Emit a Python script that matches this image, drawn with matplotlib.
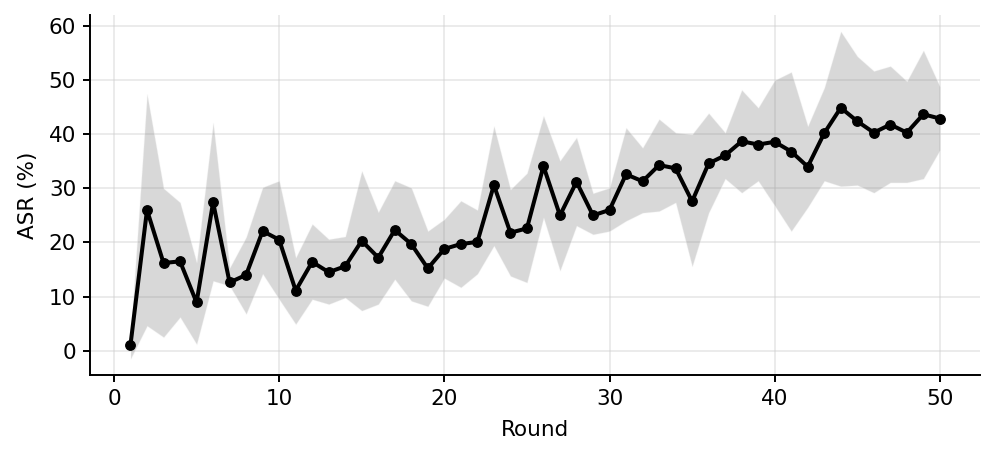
import matplotlib
matplotlib.use("Agg")
import matplotlib.pyplot as plt
import numpy as np

rounds = list(range(1, 51))
asr_mean = [1.1, 26.0, 16.2, 16.5, 8.9, 27.4, 12.6, 14.0, 22.1, 20.5,
            11.1, 16.4, 14.5, 15.6, 20.3, 17.2, 22.3, 19.7, 15.2, 18.8,
            19.7, 20.1, 30.6, 21.8, 22.6, 34.1, 25.0, 31.2, 25.0, 26.0,
            32.6, 31.3, 34.3, 33.7, 27.6, 34.6, 36.1, 38.7, 38.1, 38.6,
            36.8, 34.0, 40.2, 44.9, 42.4, 40.3, 41.8, 40.3, 43.7, 42.9]
asr_upper = [2.5, 47.4, 30.0, 27.4, 16.3, 42.1, 15.3, 21.0, 30.2, 31.4,
             17.2, 23.4, 20.6, 21.1, 33.2, 25.6, 31.4, 30.1, 22.1, 24.3,
             27.7, 26.0, 41.5, 29.8, 32.8, 43.4, 35.1, 39.4, 29.1, 30.1,
             41.2, 37.5, 42.8, 40.3, 40.0, 43.9, 40.3, 48.2, 44.9, 50.0,
             51.5, 41.5, 48.6, 59.0, 54.4, 51.7, 52.6, 49.8, 55.5, 48.8]
asr_lower = [-1.5, 4.6, 2.5, 6.2, 1.2, 12.9, 12.0, 6.8, 14.2, 9.5,
             4.9, 9.5, 8.6, 9.8, 7.4, 8.6, 13.2, 9.2, 8.2, 13.4,
             11.7, 14.2, 19.4, 13.8, 12.6, 24.6, 14.8, 23.1, 21.5, 22.1,
             24.0, 25.5, 25.8, 27.4, 15.6, 25.5, 31.8, 29.2, 31.4, 26.8,
             22.1, 26.5, 31.4, 30.4, 30.6, 29.2, 31.1, 31.1, 31.8, 37.1]

plt.rcParams['font.family'] = ['DejaVu Sans']
fig = plt.figure(figsize=(9.97, 4.58), dpi=100)
ax = fig.add_axes([0.0903, 0.181, 0.893, 0.786])

ax.fill_between(rounds, asr_lower, asr_upper, color='gray', alpha=0.3, linewidth=0.8,
                edgecolor='#eeeeee')
ax.plot(rounds, asr_mean, color='black', linewidth=2.9, marker='o', markersize=6.8)

ax.set_xlabel('Round', fontsize=15.5, labelpad=8)
ax.set_ylabel('ASR (%)', fontsize=15.5, labelpad=8)
ax.tick_params(labelsize=15.5, width=1.4, length=5, pad=5)
ax.set_xticks([0, 10, 20, 30, 40, 50])
ax.set_yticks([0, 10, 20, 30, 40, 50, 60])
ax.grid(True, color='#cccccc', alpha=0.5, linewidth=1.1)
ax.set_axisbelow(True)
for s in ['top', 'right']:
    ax.spines[s].set_visible(False)
for s in ['left', 'bottom']:
    ax.spines[s].set_linewidth(1.4)

fig.savefig('out.png', dpi=100)
